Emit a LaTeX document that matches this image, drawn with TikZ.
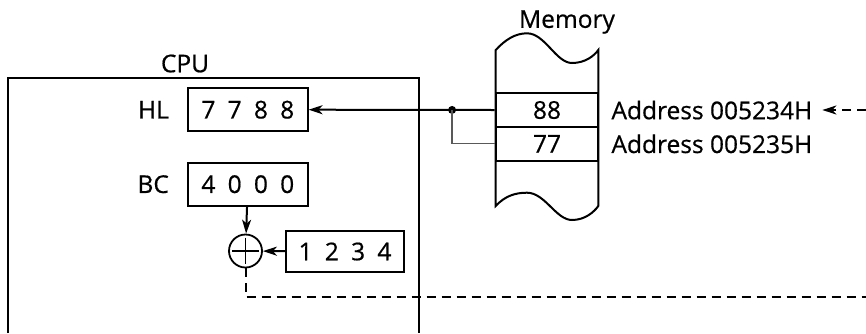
\documentclass[tikz,border=0pt]{standalone}
\usepackage{fontspec}
\setmainfont[FakeBold=0.6]{Open Sans}
\usetikzlibrary{positioning,arrows.meta}

\tikzset{
  reg/.style={draw,line width=2pt,minimum width=119.5pt,minimum height=42.7pt,inner sep=0pt},
  cell/.style={draw,line width=2pt,minimum width=102.6pt,minimum height=33.4pt,inner sep=0pt},
  lbl/.style={inner sep=0pt},
  wire/.style={line width=2pt},
  arr/.style={-{Stealth[length=14pt,width=9pt,inset=4pt]}},
  bus/.style={wire,dash pattern=on 9pt off 6pt}
}

\begin{document}
\begin{tikzpicture}[x=1pt,y=-1pt,font=\fontsize{24.5}{29}\selectfont]
  \useasboundingbox (0,0) rectangle (866,333);
  % CPU frame, open at the bottom
  \draw[wire] (8,333) -- (8,77.7) -- (419,77.7) -- (419,333);
  \node (cpu) at (185,63.5) {CPU};

  \node[reg] (hl) at (247.8,109.7) {7\enspace7\enspace8\enspace8};
  \node[reg] (bc) at (247.8,184.2) {4\enspace0\enspace0\enspace0};
  \node[lbl,left=18pt of hl] (hllbl) {HL};
  \node[lbl,left=18pt of bc] (bclbl) {BC};
  \node[draw,circle,line width=1.8pt,minimum size=33pt,inner sep=0pt] (add) at (245.5,251) {};
  \draw[line width=1.6pt] ([yshift=-4pt]add.north) -- ([yshift=4pt]add.south)
    ([xshift=4pt]add.west) -- ([xshift=-4pt]add.east);
  \node[reg,minimum width=118pt,minimum height=41.6pt] (off) at (345,251.5) {1\enspace2\enspace3\enspace4};
  \draw[wire,arr] (bc) -- (add);
  \draw[wire,arr] (off) -- (add);

  % memory
  \draw[wire] (495.7,50) -- (495.7,206)
    .. controls (505,196) and (515,192.7) .. (527,192.7)
    .. controls (545,192.7) and (556,220) .. (572,220)
    .. controls (585,220) and (594,212) .. (598.3,206)
    -- (598.3,50)
    .. controls (594,56) and (585,63) .. (572,63)
    .. controls (556,63) and (545,33.3) .. (527,33.3)
    .. controls (515,33.3) and (505,40) .. (495.7,50) -- cycle;
  \node (mem) at (567,22) {Memory};
  \node[cell] (m88) at (547,110) {88};
  \node[cell,minimum height=34.3pt] (m77) at (547,143.8) {77};
  \node[lbl,right=12pt of m88] (a88) {Address 005234H};
  \node[lbl,right=12pt of m77] (a77) {Address 005235H};

  \draw[wire,arr] (m88.west) -- (hl.east);
  \path (m88.west) -- (hl.east) coordinate[pos=0.229] (tap);
  \fill (tap) circle (4pt);
  \draw[black!65,line width=1.2pt] (tap) |- (m77.west);

  \coordinate (busR) at (866,297.3);
  \coordinate (busT) at (866,110);
  \draw[bus] (add) |- (busR);
  \draw[bus,arr,shorten >=10pt] (busT) -- (a88.east);
\end{tikzpicture}
\end{document}
